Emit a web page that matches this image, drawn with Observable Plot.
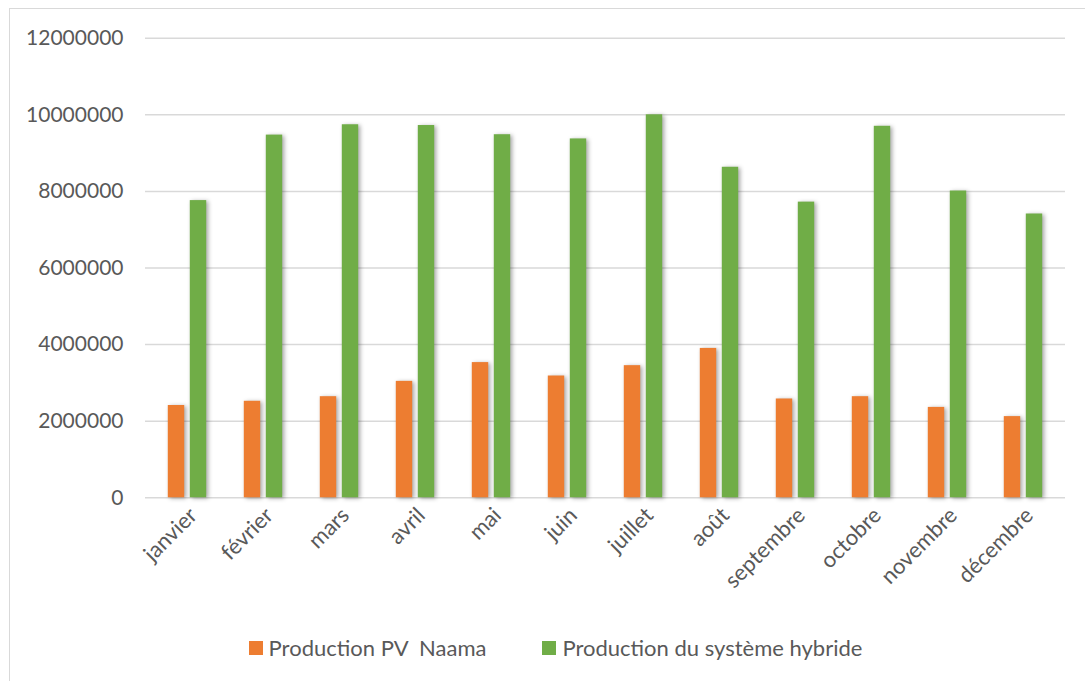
<!DOCTYPE html>
<html>
<head>
<meta charset="utf-8">
<script src="https://cdn.jsdelivr.net/npm/d3@7"></script>
<script src="https://cdn.jsdelivr.net/npm/@observablehq/plot@0.6"></script>
<style>
  html, body { margin: 0; padding: 0; background: #fff; }
  body { width: 1085px; height: 681px; position: relative; overflow: hidden; font-family: Lato, "Open Sans", sans-serif; }
  #frame { position: absolute; left: 9px; top: 8px; width: 1200px; height: 800px; border: 1px solid #d9d9d9; box-sizing: border-box; }
  #chart { position: absolute; left: 0; top: 0; }
  #chart svg { display: block; }
  #legend { position: absolute; left: 13px; width: 1085px; top: 634px; display: flex; justify-content: center; font-size: 22px; color: #595959; }
  .item { display: flex; align-items: center; }
  .sw { width: 14px; height: 14px; margin-right: 6px; }
  .bar-shadow { filter: drop-shadow(2px 1px 2px rgba(0,0,0,0.35)); }
  .xax text { font-size: 22px; }
</style>
</head>
<body>
<div id="frame"></div>
<div id="chart"></div>
<div id="legend"></div>
<script>
const months = ["janvier","février","mars","avril","mai","juin","juillet","août","septembre","octobre","novembre","décembre"];
const pvNaama = [2410000, 2520000, 2640000, 3040000, 3530000, 3180000, 3450000, 3900000, 2580000, 2640000, 2360000, 2120000];
const hybride = [7760000, 9470000, 9740000, 9720000, 9480000, 9370000, 10000000, 8630000, 7720000, 9700000, 8010000, 7410000];
const seriesNames = ["Production PV  Naama", "Production du système hybride"];
const seriesColors = ["#ED7D31", "#70AD47"];
const yTicks = [0, 2000000, 4000000, 6000000, 8000000, 10000000, 12000000];

const idx = months.map((m, i) => i);
const inset = 29.8;

const chart = Plot.plot({
  width: 1085,
  height: 620,
  marginLeft: 145,
  marginRight: 20,
  marginTop: 37.7,
  marginBottom: 122.7,
  style: { fontFamily: "Lato, 'Open Sans', sans-serif", fontSize: "21px", color: "#595959", background: "transparent" },
  x: { domain: months, padding: 0, label: null, axis: null },
  y: { domain: [0, 12000000], ticks: yTicks, tickFormat: d3.format("d"), label: null, tickSize: 0, tickPadding: 22 },
  marks: [
    Plot.gridY(yTicks, { stroke: "#d9d9d9", strokeOpacity: 1, strokeWidth: 1.5 }),
    Plot.axisX({ tickSize: 0, tickRotate: -45, tickPadding: 14, label: null, className: "xax", dx: 6 }),
    Plot.barY(idx, { x: i => months[i], y: i => pvNaama[i], fill: seriesColors[0], dx: -11, insetLeft: inset, insetRight: inset, className: "bar-shadow" }),
    Plot.barY(idx, { x: i => months[i], y: i => hybride[i], fill: seriesColors[1], dx: 11, insetLeft: inset, insetRight: inset, className: "bar-shadow" })
  ]
});
document.getElementById("chart").appendChild(chart);

const legend = document.getElementById("legend");
seriesNames.forEach((name, i) => {
  const it = document.createElement("div");
  it.className = "item";
  it.style.marginRight = i === 0 ? "56px" : "0";
  const sw = document.createElement("span");
  sw.className = "sw";
  sw.style.background = seriesColors[i];
  const t = document.createElement("span");
  t.textContent = name;
  t.style.whiteSpace = "pre";
  it.appendChild(sw); it.appendChild(t);
  legend.appendChild(it);
});
</script>
</body>
</html>
